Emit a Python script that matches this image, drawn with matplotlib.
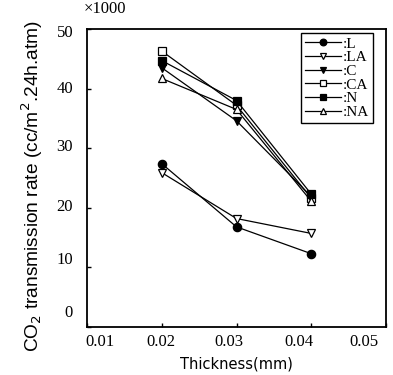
import matplotlib
matplotlib.use("Agg")
import matplotlib.pyplot as plt
import matplotlib.transforms as mtransforms

thickness = [0.02, 0.03, 0.04]
series_names = ["L", "LA", "C", "CA", "N", "NA"]
L_vals = [27.4, 16.8, 12.3]
LA_vals = [25.9, 18.2, 15.7]
C_vals = [43.5, 34.6, 21.9]
CA_vals = [46.3, 37.2, 21.6]
N_vals = [44.7, 38.0, 22.3]
NA_vals = [41.7, 36.5, 21.1]
x_ticks = [0.01, 0.02, 0.03, 0.04, 0.05]
x_ticklabels = ["0.01", "0.02", "0.03", "0.04", "0.05"]
y_ticks = [0, 10, 20, 30, 40, 50]

styles = {
    "L": dict(marker="o", mfc="black", ms=6),
    "LA": dict(marker="v", mfc="white", ms=6),
    "C": dict(marker="v", mfc="black", ms=6),
    "CA": dict(marker="s", mfc="white", ms=5.5),
    "N": dict(marker="s", mfc="black", ms=5.5),
    "NA": dict(marker="^", mfc="white", ms=6),
}
values = {"L": L_vals, "LA": LA_vals, "C": C_vals, "CA": CA_vals, "N": N_vals, "NA": NA_vals}

fig = plt.figure(figsize=(3.93, 3.75), dpi=100)
ax = fig.add_axes([87/393, 1-327/375, (386-87)/393, (327-29)/375])

for n in series_names:
    st = styles[n]
    ax.plot(thickness, values[n], color="black", lw=0.9, marker=st["marker"],
            mfc=st["mfc"], mec="black", ms=st["ms"], mew=0.9, label=":" + n)

ax.set_xlim(0.01, 0.05)
ax.set_ylim(0, 50)
ax.set_xticks(x_ticks)
ax.set_xticklabels(x_ticklabels, family="Liberation Serif", fontsize=12)
ax.set_yticks(y_ticks)
ax.set_yticklabels([str(v) for v in y_ticks], family="Liberation Serif", fontsize=12)
ax.tick_params(direction="in", length=3, width=1, pad=5)
ax.tick_params(axis="y", pad=10)
for s in ax.spines.values():
    s.set_linewidth(1.3)

# small offsets of tick labels as in the scanned original
x_off = [13, -1, -8, -12, -22]
y_off = [16, 9, 3, 3, 2, -2]
for lab, dx in zip(ax.get_xticklabels(), x_off):
    lab.set_transform(lab.get_transform() + mtransforms.ScaledTranslation(dx/100, 0, fig.dpi_scale_trans))
for lab, dy in zip(ax.get_yticklabels(), y_off):
    lab.set_transform(lab.get_transform() + mtransforms.ScaledTranslation(0, dy/100, fig.dpi_scale_trans))

ax.set_xlabel("Thickness(mm)", family="DejaVu Sans", fontsize=10.5, labelpad=5)
ax.set_ylabel("CO$_2$ transmission rate (cc/m$^2$.24h.atm)", family="Liberation Sans",
              fontsize=13.8)
ax.yaxis.set_label_coords((45-87)/299, (327-186)/298)
fig.text(84/393, 1-9/375, "×1000", family="Liberation Serif", fontsize=12, va="center", ha="left")

leg = ax.legend(loc="upper right", handlelength=2.4, handletextpad=0.1,
                labelspacing=0.0, borderpad=0.25, borderaxespad=0, fancybox=False, framealpha=1,
                edgecolor="black", prop={"family": "Liberation Serif", "size": 11},
                markerscale=0.8, bbox_to_anchor=((373-87)/299, (327-33)/298))
leg.get_frame().set_linewidth(1.0)

fig.savefig("out.png", dpi=100)
